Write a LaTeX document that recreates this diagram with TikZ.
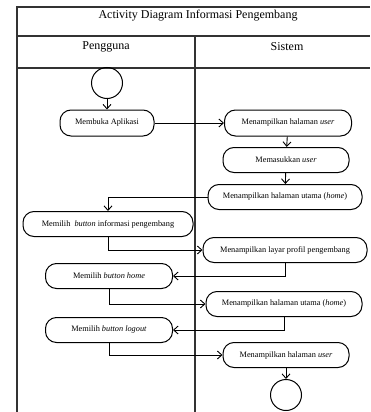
\documentclass[tikz,border=0pt]{standalone}
\usepackage{fontspec}
\setmainfont{Liberation Serif}
\usetikzlibrary{arrows.meta}
\begin{document}
\begin{tikzpicture}[x=1pt,y=-1pt,
    act/.style={draw,line width=1pt,rounded corners=11pt,minimum height=25pt,
      inner sep=1pt,font=\fontsize{8.3}{10}\selectfont},
    terminal/.style={draw,circle,line width=1pt,minimum size=31pt,inner sep=0pt},
    flow/.style={-{Straight Barb[length=4.5pt,width=8pt]},line width=0.9pt},
    lane/.style={line width=1.2pt,draw=black!80}]
  \useasboundingbox (0,0) rectangle (370,412);
  % swimlane frame
  \draw[lane] (370,7) -- (17,7) -- (17,412);
  \draw[lane] (17,36) -- (370,36);
  \draw[lane] (17,68) -- (370,68);
  \draw[lane] (195,36) -- (195,412);
  \node[font=\fontsize{12}{14}\selectfont] (judul) at (198,16) {Activity Diagram Informasi Pengembang};
  \node[font=\fontsize{12}{14}\selectfont] (pengguna) at (106,47) {Pengguna};
  \node[font=\fontsize{12}{14}\selectfont] (sistem) at (287,47) {Sistem};
  % activities
  \draw
    (107,83) node[terminal] (mulai) {}
    (107,123) node[act,minimum width=94pt,minimum height=26pt] (buka) {Membuka Aplikasi}
    (288,123) node[act,minimum width=127pt,minimum height=26pt] (user1) {Menampilkan halaman \textit{user}}
    (286,160) node[act,minimum width=126pt] (masuk) {Memasukkan \textit{user}}
    (285,197) node[act,minimum width=154pt] (utama1) {Menampilkan halaman utama (\textit{home})}
    (108,224) node[act,minimum width=170pt] (info) {Memilih \ \textit{button} informasi pengembang}
    (285,250) node[act,minimum width=164pt] (profil) {Menampilkan layar profil pengembang}
    (109,276) node[act,minimum width=127pt] (home) {Memilih \textit{button home}}
    (284,304) node[act,minimum width=156pt] (utama2) {Menampilkan halaman utama (\textit{home})}
    (109,330) node[act,minimum width=127pt] (logout) {Memilih \textit{button logout}}
    (286,355) node[act,minimum width=126pt] (user2) {Menampilkan halaman \textit{user}}
    (286,395) node[terminal] (selesai) {};
  \begin{scope}[flow]
    \draw (mulai) -- (buka);
    \draw (buka) -- (user1);
    \draw (user1) -- (masuk);
    \draw (masuk) -- (utama1);
    \draw (utama1.west) -| (info.north);
    \draw (info.south) |- (profil.west);
    \draw (profil.south) |- (home.east);
    \draw (home.south) |- (utama2.west);
    \draw (utama2.south) |- (logout.east);
    \draw (logout.south) |- (user2.west);
    \draw (user2) -- (selesai);
  \end{scope}
\end{tikzpicture}
\end{document}
